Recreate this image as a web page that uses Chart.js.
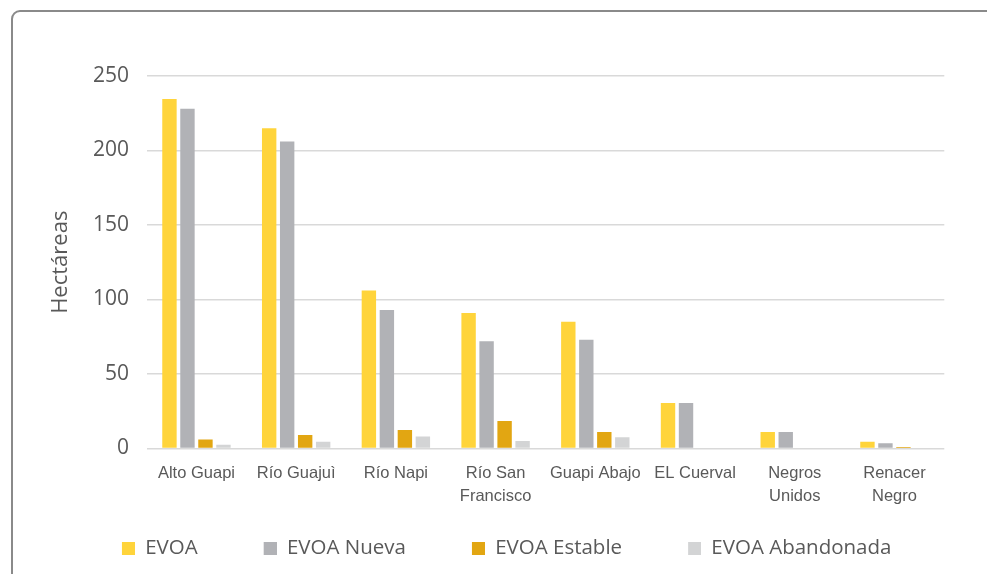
<!DOCTYPE html>
<html>
<head>
<meta charset="utf-8">
<script src="https://cdn.jsdelivr.net/npm/chart.js@4"></script>
<style>
  body { margin: 0; background: #fff; overflow: hidden; }
  #wrap { position: relative; width: 987px; height: 574px; }
  #frame { position: absolute; left: 11px; top: 10px; width: 1000px; height: 600px;
           border: 2px solid #8a8a8a; border-radius: 9px; }
  canvas { position: absolute; left: 0; top: 0; }
</style>
</head>
<body>
<div id="wrap">
  <div id="frame"></div>
  <canvas id="mychart" width="987" height="574"></canvas>
</div>
<script>
// data
let categories = ['Alto Guapi', 'Río Guajuì', 'Río Napi', ['Río San', 'Francisco'],
  'Guapi Abajo', 'EL Cuerval', ['Negros', 'Unidos'], ['Renacer', 'Negro']]
let evoa = [234.5, 215, 106, 91, 85, 30.5, 11, 4.5]
let evoaNueva = [228, 206, 93, 72, 73, 30.5, 11, 3.5]
let evoaEstable = [6, 9, 12.5, 18.5, 11, 0, 0, 1]
let evoaAbandonada = [2.5, 4.5, 8, 5, 7.5, 0, 0, 0]
let yTicks = [0, 50, 100, 150, 200, 250]

let colors = ['#FFD43B', '#B1B2B6', '#E2A612', '#D3D4D5']
let grey = '#595959'
let barOpts = {categoryPercentage: 0.722, barPercentage: 0.8, borderWidth: 0}

// legend icon: small square at the right end of a wide transparent strip,
// so the space between legend items can be wide while the legend stays low
let iconW = 69
function legendIcon(color) {
  let c = document.createElement('canvas');
  c.width = iconW;
  c.height = 13;
  let g = c.getContext('2d');
  g.fillStyle = color;
  g.fillRect(iconW - 13, 0, 13, 13);
  return c;
}
let legendIcons = colors.map(legendIcon)

let ctx = document.getElementById('mychart').getContext('2d');
let myChart = new Chart(ctx, {
  type: 'bar',
  data: {
    labels: categories,
    datasets: [
      {label: 'EVOA', data: evoa, backgroundColor: colors[0], ...barOpts},
      {label: 'EVOA Nueva', data: evoaNueva, backgroundColor: colors[1], ...barOpts},
      {label: 'EVOA Estable', data: evoaEstable, backgroundColor: colors[2], ...barOpts},
      {label: 'EVOA Abandonada', data: evoaAbandonada, backgroundColor: colors[3], ...barOpts}
    ]
  },
  options: {
    responsive: false,
    animation: false,
    layout: {padding: {left: 13, right: 42.7, top: 76, bottom: 5.75}},
    scales: {
      x: {
        grid: {display: false, drawTicks: false},
        border: {display: false},
        ticks: {
          color: grey,
          padding: 13.5,
          font: {family: 'Liberation Sans', size: 16.5, lineHeight: 1.39}
        },
        afterFit: function(scale) { scale.height = 79.25; }
      },
      y: {
        min: 0,
        max: 250,
        afterBuildTicks: function(scale) { scale.ticks = yTicks.map(v => ({value: v})); },
        grid: {color: '#d9d9d9', lineWidth: 1.5, drawTicks: false},
        border: {display: false},
        ticks: {
          color: grey,
          padding: 17.5,
          font: {family: 'Open Sans', size: 21}
        },
        title: {
          display: true,
          text: 'Hectáreas',
          color: grey,
          padding: {top: 34.3, bottom: 0},
          font: {family: 'Open Sans', size: 22, lineHeight: 1.2}
        },
        afterFit: function(scale) { scale.width = 133.6; }
      }
    },
    plugins: {
      legend: {
        position: 'bottom',
        labels: {
          color: grey,
          usePointStyle: true,
          pointStyleWidth: iconW,
          boxHeight: 13,
          padding: 10,
          font: {family: 'Open Sans', size: 20.5},
          generateLabels: function(chart) {
            let items = Chart.defaults.plugins.legend.labels.generateLabels(chart);
            items.forEach((item, i) => { item.pointStyle = legendIcons[i]; });
            return items;
          }
        }
      },
      tooltip: {enabled: false}
    }
  }
});
</script>
</body>
</html>
